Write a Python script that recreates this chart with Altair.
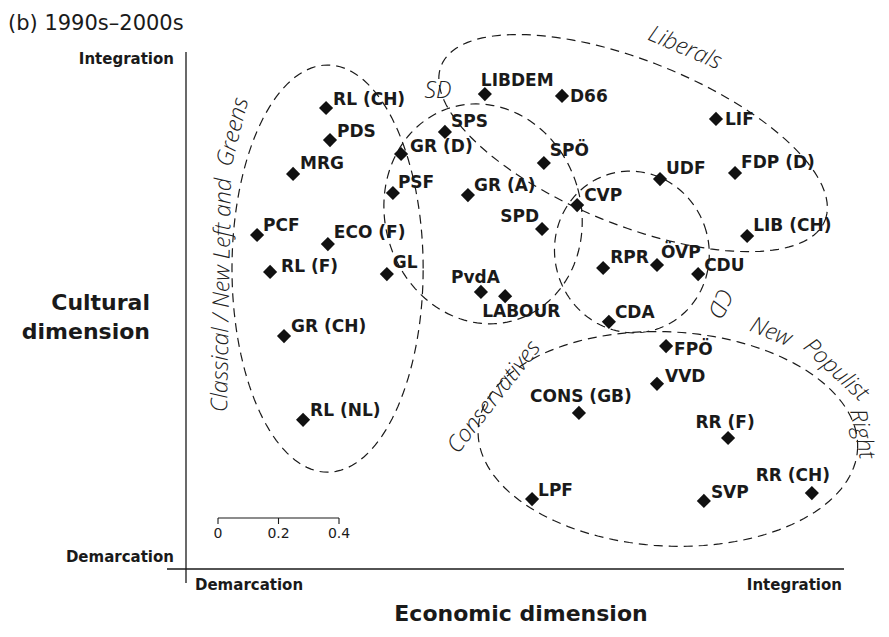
import math
import altair as alt
import pandas as pd

# ---------------- data (economic / cultural positions, scale-bar units) ----------------
parties = ["RL (CH)", "PDS", "MRG", "PCF", "ECO (F)", "RL (F)", "GL", "GR (CH)", "RL (NL)",
           "GR (D)", "PSF", "SPS", "LIBDEM", "D66", "GR (A)", "SPÖ", "SPD", "CVP", "PvdA", "LABOUR",
           "RPR", "ÖVP", "CDU", "CDA", "UDF", "LIF", "FDP (D)", "LIB (CH)", "FPÖ", "VVD",
           "CONS (GB)", "RR (F)", "LPF", "SVP", "RR (CH)"]
economic = [0.463, 0.476, 0.354, 0.235, 0.469, 0.278, 0.664, 0.324, 0.387,
            0.711, 0.684, 0.856, 0.988, 1.243, 0.932, 1.183, 1.177, 1.293, 0.975, 1.055,
            1.379, 1.557, 1.693, 1.398, 1.567, 1.752, 1.815, 1.855, 1.587, 1.557,
            1.299, 1.792, 1.144, 1.712, 2.069]
cultural = [1.524, 1.418, 1.306, 1.104, 1.074, 0.982, 0.975, 0.770, 0.493,
            1.372, 1.243, 1.445, 1.570, 1.564, 1.236, 1.342, 1.124, 1.203, 0.916, 0.902,
            0.995, 1.005, 0.975, 0.817, 1.289, 1.488, 1.309, 1.101, 0.737, 0.612,
            0.516, 0.433, 0.231, 0.225, 0.251]

# party-family ellipses: centre, semi-axes, rotation (deg, counter-clockwise)
families = ["Classical / New Left and Greens", "SD", "Liberals", "CD", "New Populist Right"]
ell_cx = [0.468, 0.982, 1.478, 1.474, 1.593]
ell_cy = [0.993, 1.174, 1.408, 1.048, 0.430]
ell_rx = [0.316, 0.324, 0.684, 0.255, 0.628]
ell_ry = [0.673, 0.367, 0.271, 0.268, 0.354]
ell_rot = [0.0, 17.0, -22.0, 15.0, -3.0]

scale_ticks = [0, 0.2, 0.4]
scale_tick_labels = ["0", "0.2", "0.4"]

# ---------------- layout ----------------
PX = 302.5            # pixels per unit
W, H = 873, 620
OX, OY = 178, 561     # axis crossing inside the plot area
SX0, SY0 = 186, 569   # axis crossing on the page


def sx(px):
    return (px - SX0) / PX


def sy(py):
    return (SY0 - py) / PX


xs = alt.Scale(domain=[-OX / PX, (W - OX) / PX], nice=False, zero=False)
ys = alt.Scale(domain=[-(H - OY) / PX, OY / PX], nice=False, zero=False)


def X(f="x"):
    return alt.X(f"{f}:Q", scale=xs, axis=None)


def Y(f="y"):
    return alt.Y(f"{f}:Q", scale=ys, axis=None)


INK = "#1a1a1a"

# ---------------- ellipses ----------------
rows = []
for i, fam in enumerate(families):
    th = math.radians(ell_rot[i])
    for k in range(0, 145):
        t = 2 * math.pi * k / 144
        ex = ell_rx[i] * math.cos(t)
        ey = ell_ry[i] * math.sin(t)
        rows.append({"fam": fam, "o": k,
                     "x": ell_cx[i] + ex * math.cos(th) - ey * math.sin(th),
                     "y": ell_cy[i] + ex * math.sin(th) + ey * math.cos(th)})
ell_df = pd.DataFrame(rows)
ellipses = alt.Chart(ell_df).mark_line(color=INK, strokeWidth=1.2, strokeDash=[9, 6]).encode(
    x=X(), y=Y(), detail="fam:N", order="o:Q")

# ---------------- axes ----------------
axes_df = pd.DataFrame([
    {"x": 0.0, "x2": 0.0, "y": sy(583), "y2": sy(52)},
    {"x": sx(167), "x2": sx(844), "y": 0.0, "y2": 0.0},
])
axes = alt.Chart(axes_df).mark_rule(color=INK, strokeWidth=1.3).encode(
    x=X("x"), x2="x2:Q", y=Y("y"), y2="y2:Q")

# ---------------- scale bar ----------------
bx0, by0 = sx(218), sy(518)
bar_df = pd.DataFrame([{"x": bx0 + scale_ticks[0], "x2": bx0 + scale_ticks[-1], "y": by0, "y2": by0}] +
                      [{"x": bx0 + v, "x2": bx0 + v, "y": by0, "y2": by0 - 6 / PX} for v in scale_ticks])
bar = alt.Chart(bar_df).mark_rule(color=INK, strokeWidth=1.1).encode(
    x=X("x"), x2="x2:Q", y=Y("y"), y2="y2:Q")
bar_lab_df = pd.DataFrame({"x": [bx0 + v for v in scale_ticks], "y": [by0 - 16 / PX] * 3,
                           "t": scale_tick_labels})
bar_labels = alt.Chart(bar_lab_df).mark_text(font="DejaVu Sans", fontSize=14, color=INK,
                                             align="center", baseline="middle").encode(
    x=X(), y=Y(), text="t:N")

# ---------------- points ----------------
df = pd.DataFrame({"party": parties, "x": economic, "y": cultural})
points = alt.Chart(df).mark_point(shape="diamond", filled=True, size=200, color="#111111",
                                  opacity=1, strokeWidth=0).encode(x=X(), y=Y())

# label placement (align, dx, dy) in pixels
default_style = ("left", 6, -9)
label_style = {
    "RL (CH)": ("left", 7, -8), "PDS": ("left", 7, -8), "MRG": ("left", 7, -10),
    "ECO (F)": ("left", 6, -11), "RL (F)": ("left", 11, -5), "GL": ("left", 6, -11),
    "GR (CH)": ("left", 7, -9), "RL (NL)": ("left", 7, -9), "GR (D)": ("left", 9, -7),
    "PSF": ("left", 5, -10), "SPS": ("left", 6, -10), "SPÖ": ("left", 6, -12),
    "UDF": ("left", 6, -10), "FDP (D)": ("left", 6, -10), "CVP": ("left", 7, -9),
    "LIB (CH)": ("left", 6, -10), "RPR": ("left", 7, -10), "ÖVP": ("left", 4, -12),
    "CDU": ("left", 6, -8), "VVD": ("left", 8, -7), "LPF": ("left", 6, -8), "SVP": ("left", 7, -8),
    "D66": ("left", 8, 1), "LIF": ("left", 9, 1), "FPÖ": ("left", 8, 4),
    "LIBDEM": ("left", -4, -13), "SPD": ("right", -3, -12), "PvdA": ("left", -30, -14),
    "LABOUR": ("left", -23, 16), "CONS (GB)": ("center", 2, -16), "RR (F)": ("center", -3, -15),
    "RR (CH)": ("center", -19, -17),
}
df["style"] = [label_style.get(p, default_style) for p in parties]
label_layers = []
for st in sorted(set(df["style"])):
    sub = df[df["style"] == st][["party", "x", "y"]]
    label_layers.append(
        alt.Chart(sub).mark_text(align=st[0], dx=st[1], dy=st[2], baseline="middle",
                                 font="DejaVu Sans", fontWeight="bold", fontSize=17, color=INK)
        .encode(x=X(), y=Y(), text="party:N"))

# ---------------- family names ----------------
fam_df = pd.DataFrame([
    {"t": "Classical / New Left and", "x": sx(222), "y": sy(295), "a": 271},
    {"t": "Greens", "x": sx(233), "y": sy(132), "a": 284},
    {"t": "SD", "x": sx(438), "y": sy(91), "a": 0},
    {"t": "Liberals", "x": sx(685), "y": sy(48), "a": 23},
    {"t": "CD", "x": sx(720), "y": sy(303), "a": 115},
    {"t": "Conservatives", "x": sx(494), "y": sy(397), "a": 308},
    {"t": "New", "x": sx(771), "y": sy(332), "a": 22},
    {"t": "Populist", "x": sx(836), "y": sy(370), "a": 43},
    {"t": "Right", "x": sx(862), "y": sy(434), "a": 78},
])
fam_labels = alt.Chart(fam_df).mark_text(font="Open Sans", fontStyle="italic", fontWeight=300,
                                         fontSize=23, color="#222222", align="center",
                                         baseline="middle").encode(
    x=X(), y=Y(), text="t:N", angle=alt.Angle("a:Q", scale=None))

# ---------------- axis texts and titles ----------------
end_df = pd.DataFrame([
    {"t": "Integration", "x": sx(174), "y": sy(59), "al": "right"},
    {"t": "Demarcation", "x": sx(174), "y": sy(557), "al": "right"},
    {"t": "Demarcation", "x": sx(195), "y": sy(585), "al": "left"},
    {"t": "Integration", "x": sx(842), "y": sy(585), "al": "right"},
])
end_layers = []
for al in ["left", "right"]:
    end_layers.append(alt.Chart(end_df[end_df["al"] == al]).mark_text(
        align=al, baseline="middle", font="DejaVu Sans", fontWeight="bold", fontSize=15, color=INK)
        .encode(x=X(), y=Y(), text="t:N"))

ytitle_df = pd.DataFrame([{"t": "Cultural", "x": sx(150), "y": sy(303)},
                          {"t": "dimension", "x": sx(150), "y": sy(332)}])
ytitle = alt.Chart(ytitle_df).mark_text(align="right", baseline="middle", font="DejaVu Sans",
                                        fontWeight="bold", fontSize=22, color=INK).encode(
    x=X(), y=Y(), text="t:N")
xtitle_df = pd.DataFrame([{"t": "Economic dimension", "x": sx(521), "y": sy(614)}])
xtitle = alt.Chart(xtitle_df).mark_text(align="center", baseline="middle", font="DejaVu Sans",
                                        fontWeight="bold", fontSize=22, color=INK).encode(
    x=X(), y=Y(), text="t:N")
title_df = pd.DataFrame([{"t": "(b) 1990s–2000s", "x": sx(8), "y": sy(24)}])
title = alt.Chart(title_df).mark_text(align="left", baseline="middle", font="DejaVu Sans",
                                      fontSize=21, color=INK).encode(x=X(), y=Y(), text="t:N")

chart = alt.layer(ellipses, axes, bar, bar_labels, points, *label_layers, fam_labels,
                  *end_layers, ytitle, xtitle, title).properties(
    width=W, height=H, autosize=alt.AutoSizeParams(type="none"), padding=0,
    background="white").configure_view(stroke=None)

chart.save("out.html", embed_options={"renderer": "svg", "actions": False})
